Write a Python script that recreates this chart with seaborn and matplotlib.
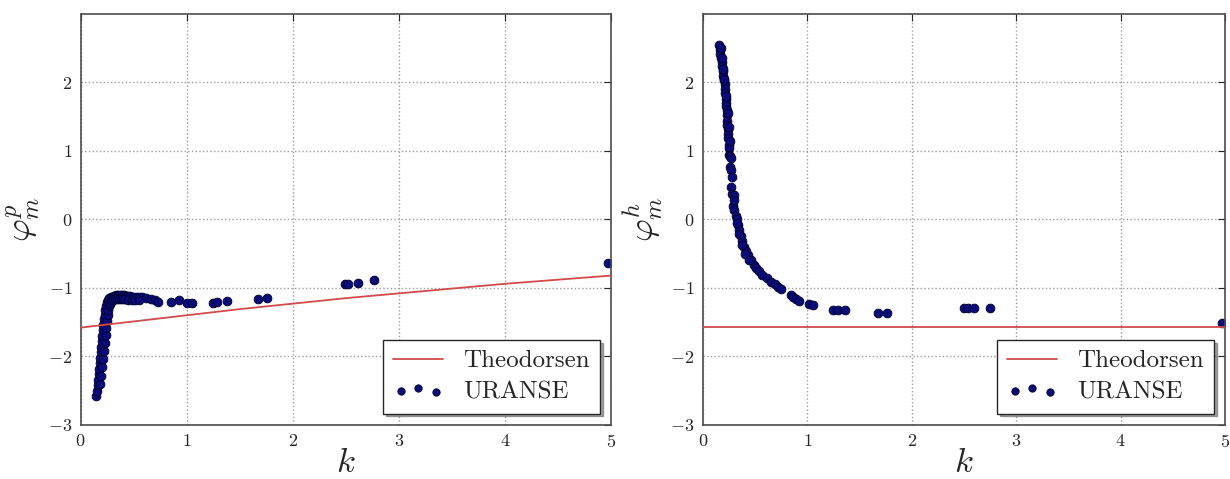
import numpy as np
import pandas as pd
import matplotlib
matplotlib.use("Agg")
import matplotlib.pyplot as plt
import seaborn as sns

# ---------------- data ----------------
k_theo = [0.0, 0.5, 1.0, 1.5, 2.0, 2.5, 3.0, 3.5, 4.0, 4.5, 5.0]
phi_p_theo = [-1.58, -1.49, -1.40, -1.31, -1.23, -1.15, -1.08, -1.01, -0.94, -0.88, -0.82]
phi_h_theo = [-1.571] * 11

k_p = [0.150, 0.155, 0.160, 0.165, 0.170, 0.175, 0.180, 0.185, 0.190, 0.195,
       0.200, 0.205, 0.210, 0.215, 0.220, 0.226, 0.233, 0.241, 0.250, 0.260,
       0.272, 0.285, 0.300, 0.316, 0.333, 0.350, 0.368, 0.386, 0.405, 0.425,
       0.446, 0.468, 0.492, 0.52, 0.55, 0.58, 0.62, 0.66, 0.70, 0.73,
       0.85, 0.93, 1.00, 1.05, 1.25, 1.29, 1.38, 1.67, 1.76,
       2.49, 2.52, 2.61, 2.76, 4.97,
       0.185, 0.195, 0.204, 0.212, 0.220, 0.228, 0.235, 0.242, 0.248, 0.255,
       0.262, 0.270, 0.278, 0.288, 0.298, 0.310, 0.322, 0.34, 0.36, 0.38,
       0.40, 0.42, 0.45, 0.48, 0.51, 0.55]
phi_p = [-2.58, -2.50, -2.42, -2.34, -2.26, -2.18, -2.10, -2.02, -1.94, -1.86,
         -1.78, -1.70, -1.62, -1.54, -1.46, -1.39, -1.32, -1.26, -1.21, -1.18,
         -1.15, -1.14, -1.13, -1.12, -1.11, -1.11, -1.11, -1.11, -1.11, -1.12,
         -1.12, -1.12, -1.13, -1.13, -1.14, -1.14, -1.15, -1.16, -1.17, -1.20,
         -1.20, -1.18, -1.22, -1.22, -1.22, -1.21, -1.19, -1.16, -1.15,
         -0.95, -0.94, -0.93, -0.88, -0.63,
         -2.40, -2.28, -2.16, -2.04, -1.92, -1.80, -1.69, -1.58, -1.49, -1.40,
         -1.33, -1.27, -1.23, -1.20, -1.18, -1.17, -1.16, -1.16, -1.16, -1.16,
         -1.16, -1.16, -1.17, -1.17, -1.17, -1.18]

k_h = [0.156, 0.160, 0.166, 0.172, 0.178, 0.184, 0.190, 0.196, 0.202, 0.208,
       0.212, 0.214, 0.216, 0.218, 0.222, 0.226, 0.228, 0.232, 0.234, 0.236,
       0.238, 0.240, 0.246, 0.250, 0.252, 0.258, 0.262, 0.272, 0.268, 0.280,
       0.298, 0.290, 0.300, 0.315, 0.325, 0.335, 0.345, 0.360, 0.375, 0.390,
       0.410, 0.430, 0.460, 0.490, 0.510, 0.540, 0.570, 0.610, 0.650, 0.690,
       0.720, 0.750, 0.840, 0.860, 0.890, 0.920, 1.02, 1.05,
       1.25, 1.29, 1.36, 1.68, 1.76, 2.50, 2.54, 2.60, 2.75, 4.97,
       0.170, 0.182, 0.194, 0.206, 0.222, 0.236, 0.246, 0.256, 0.268, 0.282,
       0.300, 0.322, 0.345, 0.372, 0.400, 0.440]
phi_h = [2.54, 2.48, 2.42, 2.36, 2.30, 2.24, 2.17, 2.10, 2.04, 1.98,
         1.90, 1.84, 1.76, 1.70, 1.66, 1.60, 1.52, 1.44, 1.38, 1.32,
         1.25, 1.19, 1.08, 1.04, 0.94, 0.92, 0.77, 0.72, 0.48, 0.37,
         0.36, 0.20, 0.14, 0.05, 0.00, -0.08, -0.15, -0.24, -0.32, -0.40,
         -0.46, -0.52, -0.59, -0.66, -0.71, -0.76, -0.81, -0.86, -0.91, -0.95,
         -0.98, -1.01, -1.11, -1.13, -1.16, -1.19, -1.24, -1.25,
         -1.32, -1.33, -1.33, -1.37, -1.37, -1.30, -1.30, -1.30, -1.29, -1.52,
         2.50, 2.35, 2.20, 2.05, 1.80, 1.55, 1.35, 1.15, 0.90, 0.62,
         0.28, -0.05, -0.22, -0.38, -0.50, -0.60]

# ---------------- style ----------------
sns.set_style("white")
plt.rcParams["font.family"] = "serif"
plt.rcParams["font.serif"] = ["cmr10", "DejaVu Serif"]
plt.rcParams["mathtext.fontset"] = "cm"
plt.rcParams["axes.formatter.use_mathtext"] = True
plt.rcParams["axes.unicode_minus"] = True

RED = "#d24a4a"
NAVY = "#0b0b78"

fig = plt.figure(figsize=(12.3, 4.79), dpi=100)
ax1 = fig.add_axes([0.0655, 0.113, 0.4315, 0.858])
ax2 = fig.add_axes([0.5715, 0.113, 0.4245, 0.858])

panels = [
    (ax1, phi_p_theo, k_p, phi_p, r"$\varphi_m^p$"),
    (ax2, phi_h_theo, k_h, phi_h, r"$\varphi_m^h$"),
]

for ax, th, kk, pp, lab in panels:
    sns.scatterplot(x=kk, y=pp, ax=ax, color=NAVY, edgecolor="#000030",
                    linewidth=0.6, s=40, legend=False, zorder=2)
    sns.lineplot(x=k_theo, y=th, ax=ax, color=RED, linewidth=1.3,
                 legend=False, zorder=3)
    ax.set_xlim(0, 5)
    ax.set_ylim(-3, 3)
    ax.set_xticks([0, 1, 2, 3, 4, 5])
    ax.set_yticks([-3, -2, -1, 0, 1, 2])
    ax.grid(True, linestyle=":", color="0.62", linewidth=1.0)
    ax.tick_params(direction="in", length=5, width=0.8, top=True, right=True,
                   labelsize=13, pad=6, colors="0.15")
    for s in ax.spines.values():
        s.set_color("0.3")
        s.set_linewidth(1.2)
    ax.set_xlabel(r"$k$", fontsize=25, labelpad=-2)
    ax.set_ylabel(lab, fontsize=25, labelpad=4)
    line = ax.lines[0]
    coll = ax.collections[0]
    leg = ax.legend([line, coll], ["Theodorsen", "URANSE"], loc="lower right",
                    fontsize=18, scatterpoints=3,
                    scatteryoffsets=[0.45, 0.62, 0.35],
                    frameon=True, fancybox=False, shadow=True, framealpha=1,
                    edgecolor="0.15", borderaxespad=0.45, handlelength=2.0,
                    labelspacing=0.35, borderpad=0.4)
    leg.get_frame().set_linewidth(1.0)
    for h in leg.legend_handles:
        if hasattr(h, "set_sizes"):
            h.set_sizes([28])

fig.savefig("out.png", dpi=100)
